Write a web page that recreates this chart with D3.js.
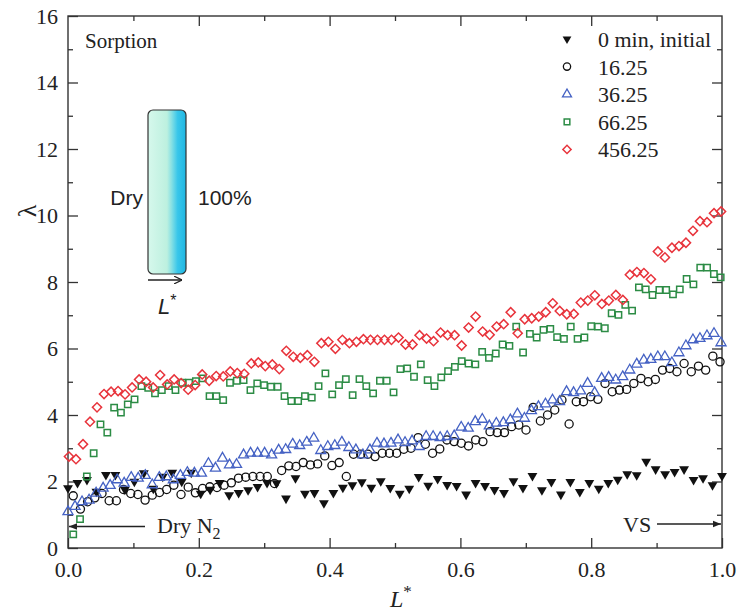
<!DOCTYPE html>
<html lang="en">
<meta charset="utf-8">
<head>
    <script src="https://d3js.org/d3.v7.min.js"></script>
    <style>
        body { margin: 0; background: #fff; }
        .tick text { font-family: "Liberation Serif", "Times New Roman", serif; font-size: 22px; fill: #222; }
        .tick line { stroke: #333; stroke-width: 1.3; }
    </style>
</head>
<body>
<script>
// lambda values, one array per exposure time
const lambda0 = [1.8,1.96,2.05,1.7,2.2,2.2,1.76,2.0,2.25,1.79,
    2.15,2.27,2.0,2.27,1.64,1.76,1.96,1.59,1.66,1.74,
    1.84,1.96,1.95,1.49,2.1,1.64,1.66,1.35,1.66,1.82,
    1.89,1.98,1.82,2.01,1.81,1.64,1.79,2.14,1.88,2.08,
    1.9,1.87,1.61,1.96,1.87,1.75,1.66,2.01,1.81,2.17,
    1.74,1.99,1.61,1.99,1.69,1.96,1.79,1.96,2.06,2.22,
    2.19,2.6,2.37,2.22,2.29,2.37,2.05,2.1,1.89,2.17];
const lambda16 = [1.57,1.17,1.39,1.51,1.64,1.42,1.42,1.76,1.64,1.61,
    1.44,1.59,1.67,1.76,1.89,1.61,1.83,1.66,1.79,1.84,
    1.82,1.89,1.96,2.1,2.13,2.15,2.15,2.15,1.94,2.33,
    2.47,2.45,2.57,2.5,2.53,2.77,2.48,2.57,2.15,2.82,
    2.82,2.82,2.75,2.85,2.85,2.85,2.97,3.0,3.32,3.12,
    2.85,2.98,3.25,3.2,3.15,3.07,3.25,3.2,3.5,3.47,
    3.47,3.65,3.7,3.55,4.23,3.82,4.0,4.15,4.45,3.73,
    4.4,4.4,4.55,4.47,4.95,4.7,4.75,4.77,4.95,5.1,
    5.0,5.07,5.35,5.4,5.3,5.55,5.3,5.47,5.35,5.77,
    5.6];
const lambda36 = [1.09,1.25,1.39,1.44,1.65,1.8,1.88,2.05,1.95,2.12,
    2.1,2.18,1.9,2.12,2.14,2.05,2.18,2.27,2.25,2.25,
    2.54,2.4,2.7,2.5,2.51,2.8,2.85,2.85,2.85,2.8,
    2.94,2.96,3.12,3.08,3.18,3.3,2.93,3.05,3.08,3.18,
    3.02,2.95,2.8,2.95,3.15,3.13,3.15,3.25,3.17,3.22,
    3.05,3.35,3.35,3.32,3.35,3.37,3.63,3.6,3.8,3.87,
    3.67,3.75,3.77,3.85,4.03,3.9,4.13,4.25,4.33,4.45,
    4.4,4.7,4.67,4.72,4.95,4.67,5.1,5.13,5.05,5.15,
    5.35,5.53,5.65,5.67,5.75,5.75,5.57,5.87,6.08,6.26,
    6.3,6.38,6.45,6.17];
const lambda66 = [0.41,0.87,2.15,2.85,3.72,3.47,4.22,4.07,4.32,4.47,
    4.87,4.82,4.65,4.75,4.87,4.75,4.97,4.97,5.02,5.1,
    4.57,4.57,4.45,4.97,5.03,5.05,4.75,4.95,4.9,4.85,
    4.85,4.57,4.42,4.42,4.57,4.52,4.87,5.25,4.62,4.9,
    5.08,4.6,5.08,4.87,4.65,5.03,5.03,4.68,5.38,5.4,
    5.15,5.52,5.05,4.87,5.13,5.32,5.45,5.62,5.55,5.52,
    5.9,5.72,5.85,6.12,6.08,6.66,5.88,6.44,6.33,6.56,
    6.59,6.34,6.29,6.66,6.29,6.33,6.67,6.66,6.61,7.06,
    7.01,7.31,7.14,7.84,7.78,7.61,7.76,7.76,7.63,7.78,
    8.09,7.93,8.43,8.43,8.24,8.14];
const lambda456 = [2.75,2.67,3.12,3.8,4.23,4.63,4.7,4.72,4.62,4.83,
    5.07,5.0,4.83,5.2,4.92,5.07,4.96,4.76,4.9,5.22,
    5.03,5.17,5.16,5.31,5.26,5.24,5.55,5.58,5.47,5.52,
    5.38,5.93,5.75,5.72,5.8,5.6,6.16,6.2,5.99,6.26,
    6.16,6.2,6.28,6.26,6.26,6.26,6.26,6.33,6.12,6.12,
    6.4,6.3,6.22,6.48,6.4,6.4,6.09,6.63,6.96,6.51,
    6.41,6.66,6.73,7.09,6.46,6.88,6.91,6.96,7.09,7.36,
    7.13,7.03,7.04,7.38,7.44,7.6,7.34,7.44,7.61,7.46,
    8.22,8.3,8.27,8.08,8.92,8.74,9.03,9.08,9.18,9.54,
    9.83,9.8,10.07,10.12];

// first and last L* of each sampling grid (points are evenly spaced between)
const lSpan0 = [0.0, 1.0];
const lSpan16 = [0.008, 0.997];
const lSpan36 = [0.0, 0.9985];
const lSpan66 = [0.008, 0.998];
const lSpan456 = [0.0015, 0.9985];

const seriesNames = ["0 min, initial", "16.25", "36.25", "66.25", "456.25"];
const xTicks = [0, 0.2, 0.4, 0.6, 0.8, 1.0];
const yTicks = [0, 2, 4, 6, 8, 10, 12, 14, 16];

const W = 738, H = 613;
const plotL = 68, plotR = 722, plotT = 16, plotB = 548;

const svg = d3.select("body").append("svg")
    .attr("width", W)
    .attr("height", H)
    .style("font-family", "'Liberation Serif', 'Times New Roman', serif");

const x = d3.scaleLinear().domain([0, 1]).range([plotL, plotR]);
const y = d3.scaleLinear().domain([0, 16]).range([plotB, plotT]);

// inset gradient
const defs = svg.append("defs");
const grad = defs.append("linearGradient").attr("id", "wet")
    .attr("x1", "0%").attr("x2", "100%").attr("y1", "0%").attr("y2", "0%");
[[0, "#d6f8ec"], [0.5, "#bdf0df"], [0.62, "#86e0e4"], [0.78, "#38c6ea"], [1, "#1fb6e2"]]
    .forEach(s => grad.append("stop").attr("offset", s[0]).attr("stop-color", s[1]));

// arrow heads
defs.append("marker").attr("id", "headFill")
    .attr("viewBox", "0 0 10 10").attr("refX", 10).attr("refY", 5)
    .attr("markerWidth", 13).attr("markerHeight", 8).attr("markerUnits", "userSpaceOnUse")
    .attr("orient", "auto")
    .append("path").attr("d", "M0,1L10,5L0,9Z").attr("fill", "#222");
defs.append("marker").attr("id", "headOpen")
    .attr("viewBox", "0 0 10 10").attr("refX", 10).attr("refY", 5)
    .attr("markerWidth", 8).attr("markerHeight", 8).attr("markerUnits", "userSpaceOnUse")
    .attr("orient", "auto")
    .append("path").attr("d", "M0,0L10,5L0,10").attr("fill", "none")
    .attr("stroke", "#222").attr("stroke-width", 1.4);

// axes: major ticks with labels, minor ticks inward on all four sides
const minorX = [0.1, 0.3, 0.5, 0.7, 0.9];
const minorY = [1, 3, 5, 7, 9, 11, 13, 15];

svg.append("g").attr("transform", `translate(0,${plotB})`)
    .call(d3.axisBottom(x).tickValues(xTicks).tickSize(-10).tickPadding(13).tickFormat(d3.format(".1f")));
svg.append("g").attr("transform", `translate(0,${plotB})`)
    .call(d3.axisBottom(x).tickValues(minorX).tickSize(-5).tickFormat(""));
svg.append("g").attr("transform", `translate(0,${plotT})`)
    .call(d3.axisTop(x).tickValues(xTicks.slice(1, -1)).tickSize(-10).tickFormat(""));
svg.append("g").attr("transform", `translate(0,${plotT})`)
    .call(d3.axisTop(x).tickValues(minorX).tickSize(-5).tickFormat(""));

svg.append("g").attr("transform", `translate(${plotL},0)`)
    .call(d3.axisLeft(y).tickValues(yTicks).tickSize(-10).tickPadding(10));
svg.append("g").attr("transform", `translate(${plotL},0)`)
    .call(d3.axisLeft(y).tickValues(minorY).tickSize(-5).tickFormat(""));
svg.append("g").attr("transform", `translate(${plotR},0)`)
    .call(d3.axisRight(y).tickValues(yTicks.slice(1, -1)).tickSize(-10).tickFormat(""));
svg.append("g").attr("transform", `translate(${plotR},0)`)
    .call(d3.axisRight(y).tickValues(minorY).tickSize(-5).tickFormat(""));

svg.selectAll(".domain").remove();
svg.selectAll(".tick text").attr("fill", "#222");

svg.append("rect")
    .attr("x", plotL).attr("y", plotT)
    .attr("width", plotR - plotL).attr("height", plotB - plotT)
    .attr("fill", "none").attr("stroke", "#333").attr("stroke-width", 1.4);

// axis titles
svg.append("text")
    .attr("transform", "translate(36,211) rotate(-90)")
    .attr("text-anchor", "middle")
    .style("font-size", "26px").attr("fill", "#222")
    .text("λ");
const xt = svg.append("text")
    .attr("x", 390).attr("y", 607)
    .style("font-size", "24px").attr("fill", "#222");
xt.append("tspan").style("font-style", "italic").text("L");
xt.append("tspan").attr("dy", -10).style("font-size", "17px").text("*");

// markers
const styles = [
    {sym: d3.symbolTriangle, size: 42, rot: 180, fill: "#111", stroke: "none", sw: 0},
    {sym: d3.symbolCircle, size: 52, rot: 0, fill: "none", stroke: "#111", sw: 1.3},
    {sym: d3.symbolTriangle, size: 44, rot: 0, fill: "none", stroke: "#4562c4", sw: 1.3},
    {sym: d3.symbolSquare, size: 40, rot: 0, fill: "none", stroke: "#2c8c45", sw: 1.5},
    {sym: d3.symbolSquare, size: 42, rot: 45, fill: "none", stroke: "#e8343c", sw: 1.5}
];

const series = [
    [lambda0, lSpan0], [lambda16, lSpan16], [lambda36, lSpan36],
    [lambda66, lSpan66], [lambda456, lSpan456]
].map(function(s, k) {
    const vals = s[0], span = s[1], n = vals.length;
    return {
        style: styles[k],
        name: seriesNames[k],
        points: vals.map(function(v, i) {
            return {l: span[0] + i * (span[1] - span[0]) / (n - 1), v: v};
        })
    };
});

series.forEach(function(s) {
    const st = s.style;
    svg.append("g").selectAll("path")
        .data(s.points)
        .join("path")
        .attr("d", d3.symbol().type(st.sym).size(st.size))
        .attr("transform", d => `translate(${x(d.l)},${y(d.v)}) rotate(${st.rot})`)
        .attr("fill", st.fill)
        .attr("stroke", st.stroke)
        .attr("stroke-width", st.sw);
});

// legend
const lg = svg.append("g");
series.forEach(function(s, k) {
    const st = s.style;
    const cy = 39 + k * 27.6;
    lg.append("path")
        .attr("d", d3.symbol().type(st.sym).size(st.size * 0.8))
        .attr("transform", `translate(567,${cy}) rotate(${st.rot})`)
        .attr("fill", st.fill).attr("stroke", st.stroke).attr("stroke-width", st.sw);
    lg.append("text")
        .attr("x", 598).attr("y", cy + 8)
        .style("font-size", "22px").attr("fill", "#222")
        .text(s.name);
});

svg.append("text")
    .attr("x", 85).attr("y", 48)
    .style("font-size", "21px").attr("fill", "#222")
    .text("Sorption");

// inset membrane sketch
svg.append("rect")
    .attr("x", 148).attr("y", 110).attr("width", 38).attr("height", 164)
    .attr("rx", 5).attr("fill", "url(#wet)")
    .attr("stroke", "#333").attr("stroke-width", 1.2);
svg.append("text")
    .attr("x", 143).attr("y", 205).attr("text-anchor", "end")
    .style("font-family", "'Liberation Sans', Arial, sans-serif")
    .style("font-size", "21px").attr("fill", "#222")
    .text("Dry");
svg.append("text")
    .attr("x", 198).attr("y", 205)
    .style("font-family", "'Liberation Sans', Arial, sans-serif")
    .style("font-size", "21px").attr("fill", "#222")
    .text("100%");
svg.append("line")
    .attr("x1", 148).attr("y1", 280).attr("x2", 182).attr("y2", 280)
    .attr("stroke", "#222").attr("stroke-width", 1.4)
    .attr("marker-end", "url(#headOpen)");
const il = svg.append("text")
    .attr("x", 158).attr("y", 314)
    .style("font-family", "'Liberation Sans', Arial, sans-serif")
    .style("font-size", "22px").attr("fill", "#222");
il.append("tspan").style("font-style", "italic").text("L");
il.append("tspan").attr("dy", -8).style("font-size", "16px").text("*");

// flow annotations
svg.append("line")
    .attr("x1", 145).attr("y1", 526.5).attr("x2", 69).attr("y2", 526.5)
    .attr("stroke", "#222").attr("stroke-width", 1.3)
    .attr("marker-end", "url(#headFill)");
const dn = svg.append("text")
    .attr("x", 157).attr("y", 533)
    .style("font-size", "22px").attr("fill", "#222");
dn.append("tspan").text("Dry N");
dn.append("tspan").attr("dy", 6).style("font-size", "16px").text("2");

svg.append("text")
    .attr("x", 623).attr("y", 532)
    .style("font-size", "22px").attr("fill", "#222")
    .text("VS");
svg.append("line")
    .attr("x1", 657).attr("y1", 524).attr("x2", 721).attr("y2", 524)
    .attr("stroke", "#222").attr("stroke-width", 1.3)
    .attr("marker-end", "url(#headFill)");
</script>
</body>
</html>
